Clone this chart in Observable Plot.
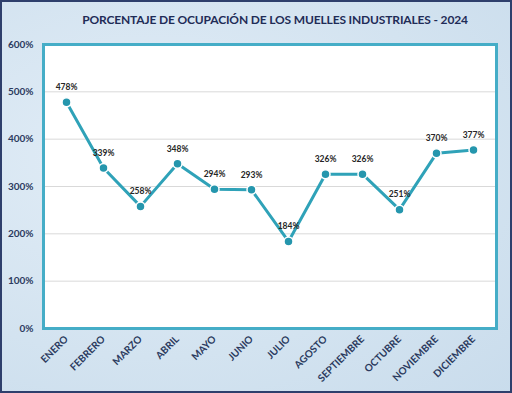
<!DOCTYPE html>
<html>
<head>
<meta charset="utf-8">
<script src="https://cdn.jsdelivr.net/npm/d3@7"></script>
<script src="https://cdn.jsdelivr.net/npm/@observablehq/plot@0.6"></script>
<style>
  html, body { margin: 0; padding: 0; }
  #wrap {
    position: relative; width: 512px; height: 393px; overflow: hidden;
    background: radial-gradient(ellipse at 30% 40%, #e2edf7 0%, #d3e3f0 60%, #c9dcec 100%);
    box-shadow: inset 0 0 0 2px #2e3f6c;
    font-family: Lato, "Open Sans", sans-serif;
  }
  #title {
    position: absolute; top: 12px; left: 40px; width: 470px; text-align: center;
    font-weight: 700; font-size: 12px; color: #1f2c57; letter-spacing: -0.15px;
  }
  #chart { position: absolute; top: 33px; left: 0; }
</style>
</head>
<body>
<div id="wrap">
  <div id="title">PORCENTAJE DE OCUPACIÓN DE LOS MUELLES INDUSTRIALES - 2024</div>
  <div id="chart"></div>
</div>
<script>
const months = ["ENERO","FEBRERO","MARZO","ABRIL","MAYO","JUNIO","JULIO","AGOSTO","SEPTIEMBRE","OCTUBRE","NOVIEMBRE","DICIEMBRE"];
const values = [478,339,258,348,294,293,184,326,326,251,370,377];
const yTicks = [0,100,200,300,400,500,600];

const data = months.map((m, i) => ({month: m, value: values[i]}));

const plot = Plot.plot({
  width: 512,
  height: 360,
  marginLeft: 43,
  marginRight: 16,
  marginTop: 11,
  marginBottom: 65,
  style: {background: "transparent", fontFamily: "Lato, 'Open Sans', sans-serif", fontWeight: 700, fontSize: "10px", color: "#2b3a5e"},
  x: {type: "point", domain: months, padding: 0.5, label: null},
  y: {domain: [0, 600], label: null},
  marks: [
    Plot.frame({fill: "white", stroke: null}),
    Plot.gridY(yTicks.filter(d => d > 0 && d < 600), {stroke: "#d9d9d9", strokeOpacity: 1, strokeWidth: 1}),
    Plot.frame({stroke: "#45adc7", strokeWidth: 3}),
    Plot.axisY(yTicks, {tickSize: 0, tickPadding: 10, tickFormat: d => d + "%", fill: "#2b3a5e", fontWeight: 700, fontSize: 10}),
    Plot.axisX(months, {tickSize: 0, tickPadding: 9, tickRotate: -45, fill: "#2b3a5e", fontWeight: 700, fontSize: 10}),
    Plot.line(data, {x: "month", y: "value", stroke: "#2fa2b8", strokeWidth: 3}),
    Plot.dot(data, {x: "month", y: "value", r: 4.5, fill: "#2596ad", stroke: "white", strokeWidth: 1.5}),
    Plot.text(data, {x: "month", y: "value", text: d => d.value + "%", dy: -15, fill: "#262626", fontWeight: 700, fontSize: 8.5})
  ]
});
document.getElementById("chart").appendChild(plot);
</script>
</body>
</html>
